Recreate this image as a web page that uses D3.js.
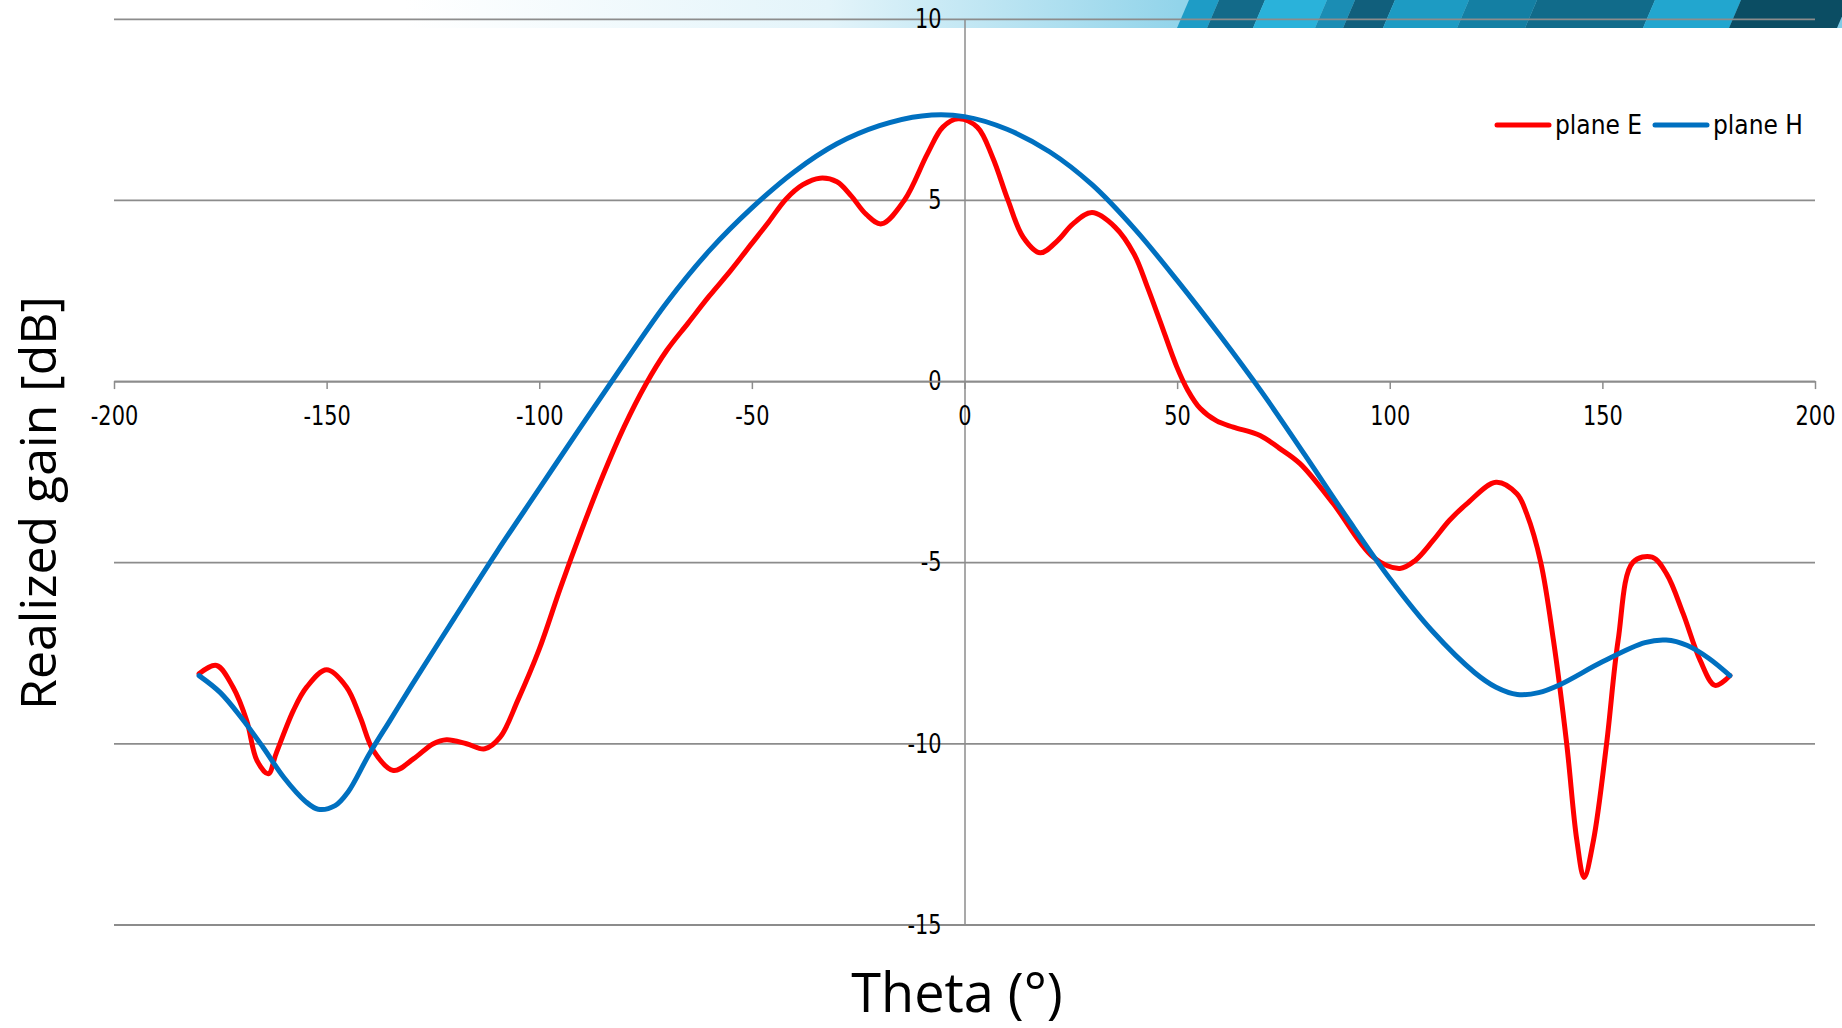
<!DOCTYPE html>
<html>
<head>
<meta charset="utf-8">
<script src="https://cdn.jsdelivr.net/npm/d3@7"></script>
<style>
  html, body { margin: 0; padding: 0; background: #ffffff; }
  svg { display: block; }
  .tick text { font-family: "DejaVu Sans Condensed", "DejaVu Sans", sans-serif; font-stretch: condensed; }
</style>
</head>
<body>
<svg id="chart" width="1842" height="1028"></svg>
<script>
// ---- Data ----
const thetaE = [-180, -175.9, -172, -168.8, -166.4, -163.7, -161.9, -157.8, -154.7, -150, -145.3, -142.1, -139, -134.3, -129.6, -124.9, -121.8, -117.1, -112.8, -109.2, -105, -100, -95, -90, -85, -80, -75, -70, -65, -60, -55, -50, -46, -42, -38, -34, -30, -26.7, -23.1, -19.5, -14.1, -8.7, -5.1, -1.5, 3.0, 6.6, 10.2, 13.8, 17.8, 21.9, 25.5, 30.0, 35.4, 39.9, 43, 46, 49.9, 52.5, 55.4, 59.3, 63.2, 69.5, 74, 78.9, 86.7, 96.1, 102.4, 106, 110.2, 114, 118.1, 125.0, 129.9, 132.2, 135.5, 138.5, 141.6, 144, 145.7, 147.9, 151.0, 153.7, 157.2, 161.7, 165.1, 169, 173, 176.5, 180];
const gainE  = [-8.08, -7.85, -8.45, -9.37, -10.47, -10.84, -10.29, -9.09, -8.45, -7.97, -8.45, -9.28, -10.2, -10.75, -10.43, -10.01, -9.90, -10.01, -10.15, -9.83, -8.8, -7.4, -5.7, -4.1, -2.6, -1.25, -0.1, 0.85, 1.6, 2.35, 3.05, 3.8, 4.4, 5.02, 5.42, 5.6, 5.5, 5.12, 4.6, 4.34, 5.0, 6.28, 7.01, 7.24, 7.01, 6.18, 5.0, 3.97, 3.54, 3.88, 4.34, 4.65, 4.25, 3.5, 2.6, 1.65, 0.4, -0.25, -0.75, -1.1, -1.27, -1.50, -1.85, -2.28, -3.38, -4.86, -5.17, -4.95, -4.4, -3.85, -3.39, -2.79, -3.11, -3.66, -5.0, -7.16, -10.0, -12.68, -13.7, -12.68, -10.0, -7.16, -5.0, -4.86, -5.32, -6.42, -7.71, -8.4, -8.13];

const thetaH = [-180, -175, -170, -165, -160, -155, -152, -148, -145, -140, -135, -130, -120, -110, -100, -90, -80, -70, -60, -50, -40, -30, -20, -10, 0, 10, 20, 30, 40, 50, 60, 70, 80, 90, 100, 110, 120, 125, 130, 135, 140, 150, 160, 165, 170, 175, 180];
const gainH  = [-8.13, -8.6, -9.3, -10.1, -10.95, -11.6, -11.82, -11.72, -11.35, -10.3, -9.35, -8.4, -6.55, -4.72, -2.97, -1.22, 0.5, 2.17, 3.6, 4.78, 5.78, 6.55, 7.05, 7.32, 7.3, 6.95, 6.33, 5.42, 4.2, 2.78, 1.27, -0.32, -2.03, -3.78, -5.45, -6.9, -8.05, -8.45, -8.65, -8.6, -8.38, -7.75, -7.22, -7.15, -7.3, -7.65, -8.13];

const xTickValues = [-200, -150, -100, -50, 0, 50, 100, 150, 200];
const yTickValues = [-15, -10, -5, 0, 5, 10];
const seriesNames = ["plane E", "plane H"];
const seriesColors = ["#ff0000", "#0070c0"];
const xTitle = "Theta (°)";
const yTitle = "Realized gain [dB]";

// ---- Layout ----
const svg = d3.select("#chart");
const W = 1842, H = 1028;
const x = d3.scaleLinear().domain([-200, 200]).range([114, 1815]);
const y = d3.scaleLinear().domain([-15, 10]).range([924.5, 18.8]);
const fmt = d => String(d);
const squeeze = 0.86;

// ---- Decorative banner at the top ----
const defs = svg.append("defs");
const grad = defs.append("linearGradient").attr("id", "bannerGrad").attr("x1", "0").attr("x2", "1").attr("y1", "0").attr("y2", "0");
grad.append("stop").attr("offset", "0.22").attr("stop-color", "#ffffff");
grad.append("stop").attr("offset", "0.45").attr("stop-color", "#e3f4fa");
grad.append("stop").attr("offset", "0.64").attr("stop-color", "#92d4ea");
grad.append("stop").attr("offset", "1").attr("stop-color", "#7fcbe6");
const banner = svg.append("g");
banner.append("rect").attr("x", 0).attr("y", 0).attr("width", W).attr("height", 28).attr("fill", "url(#bannerGrad)");
const stripes = [
  [1182, 1212, "#1e9cc6"], [1212, 1258, "#136a89"], [1258, 1320, "#2ab2da"], [1320, 1348, "#1b8db4"],
  [1348, 1388, "#115f7c"], [1388, 1462, "#1d9bc3"], [1462, 1530, "#147fa3"], [1530, 1648, "#116b8a"],
  [1648, 1734, "#22a6cf"], [1734, 1842, "#0b4d63"]
];
stripes.forEach(([a, b, c]) => {
  banner.append("path")
    .attr("d", `M${a + 7},0 L${b + 7},0 L${b - 5},28 L${a - 5},28 Z`)
    .attr("fill", c);
});

// ---- Gridlines ----
const grid = svg.append("g").attr("transform", `translate(${x(-200)},0)`)
  .call(d3.axisLeft(y).tickValues(yTickValues).tickSize(-(x(200) - x(-200))).tickFormat(""));
grid.select(".domain").remove();
grid.selectAll("line").attr("stroke", "#8c8c8c").attr("stroke-width", 1.8);

// ---- Y axis at x = 0 ----
const yAxis = svg.append("g").attr("transform", `translate(${x(0)},0)`)
  .call(d3.axisLeft(y).tickValues(yTickValues).tickSize(0).tickPadding(23).tickFormat(fmt));
yAxis.select(".domain").attr("stroke", "#8c8c8c").attr("stroke-width", 1.5);
yAxis.selectAll("text").attr("font-size", 27).attr("fill", "#000")
  .attr("x", -23 / squeeze).attr("transform", `scale(${squeeze},1)`);

// ---- X axis at y = 0 ----
const xAxis = svg.append("g").attr("transform", `translate(0,${y(0)})`)
  .call(d3.axisBottom(x).tickValues(xTickValues).tickSize(8).tickPadding(17).tickSizeOuter(0).tickFormat(fmt));
xAxis.select(".domain").attr("stroke", "#8c8c8c").attr("stroke-width", 1.8);
xAxis.selectAll("line").attr("stroke", "#8c8c8c").attr("stroke-width", 1.5);
xAxis.selectAll("text").attr("font-size", 27).attr("fill", "#000")
  .attr("transform", `scale(${squeeze},1)`);

// ---- Curves ----
const line = d3.line().x(d => x(d[0])).y(d => y(d[1])).curve(d3.curveCatmullRom.alpha(0.5));
const dataE = thetaE.map((t, i) => [t, gainE[i]]);
const dataH = thetaH.map((t, i) => [t, gainH[i]]);
svg.append("path").datum(dataE).attr("d", line).attr("fill", "none")
  .attr("stroke", seriesColors[0]).attr("stroke-width", 5).attr("stroke-linejoin", "round").attr("stroke-linecap", "round");
svg.append("path").datum(dataH).attr("d", line).attr("fill", "none")
  .attr("stroke", seriesColors[1]).attr("stroke-width", 5).attr("stroke-linejoin", "round").attr("stroke-linecap", "round");

// ---- Legend ----
const legendItems = [
  { x0: 1497, x1: 1549, tx: 1555 },
  { x0: 1655, x1: 1707, tx: 1713 }
];
legendItems.forEach((it, i) => {
  svg.append("line").attr("x1", it.x0).attr("x2", it.x1).attr("y1", 125).attr("y2", 125)
    .attr("stroke", seriesColors[i]).attr("stroke-width", 5).attr("stroke-linecap", "round");
  svg.append("text").attr("x", it.tx).attr("y", 134)
    .attr("font-family", "'DejaVu Sans Condensed', 'DejaVu Sans', sans-serif")
    .attr("font-stretch", "condensed")
    .attr("font-size", 26).attr("fill", "#000").text(seriesNames[i]);
});

// ---- Axis titles ----
svg.append("text").attr("x", 957).attr("y", 1012).attr("text-anchor", "middle")
  .attr("font-family", "'Open Sans', 'Noto Sans', sans-serif").attr("font-size", 54).attr("fill", "#000")
  .text(xTitle);
svg.append("text").attr("transform", "translate(56,503) rotate(-90)").attr("text-anchor", "middle")
  .attr("font-family", "'Open Sans', 'Noto Sans', sans-serif").attr("font-size", 50).attr("fill", "#000")
  .text(yTitle);
</script>
</body>
</html>
